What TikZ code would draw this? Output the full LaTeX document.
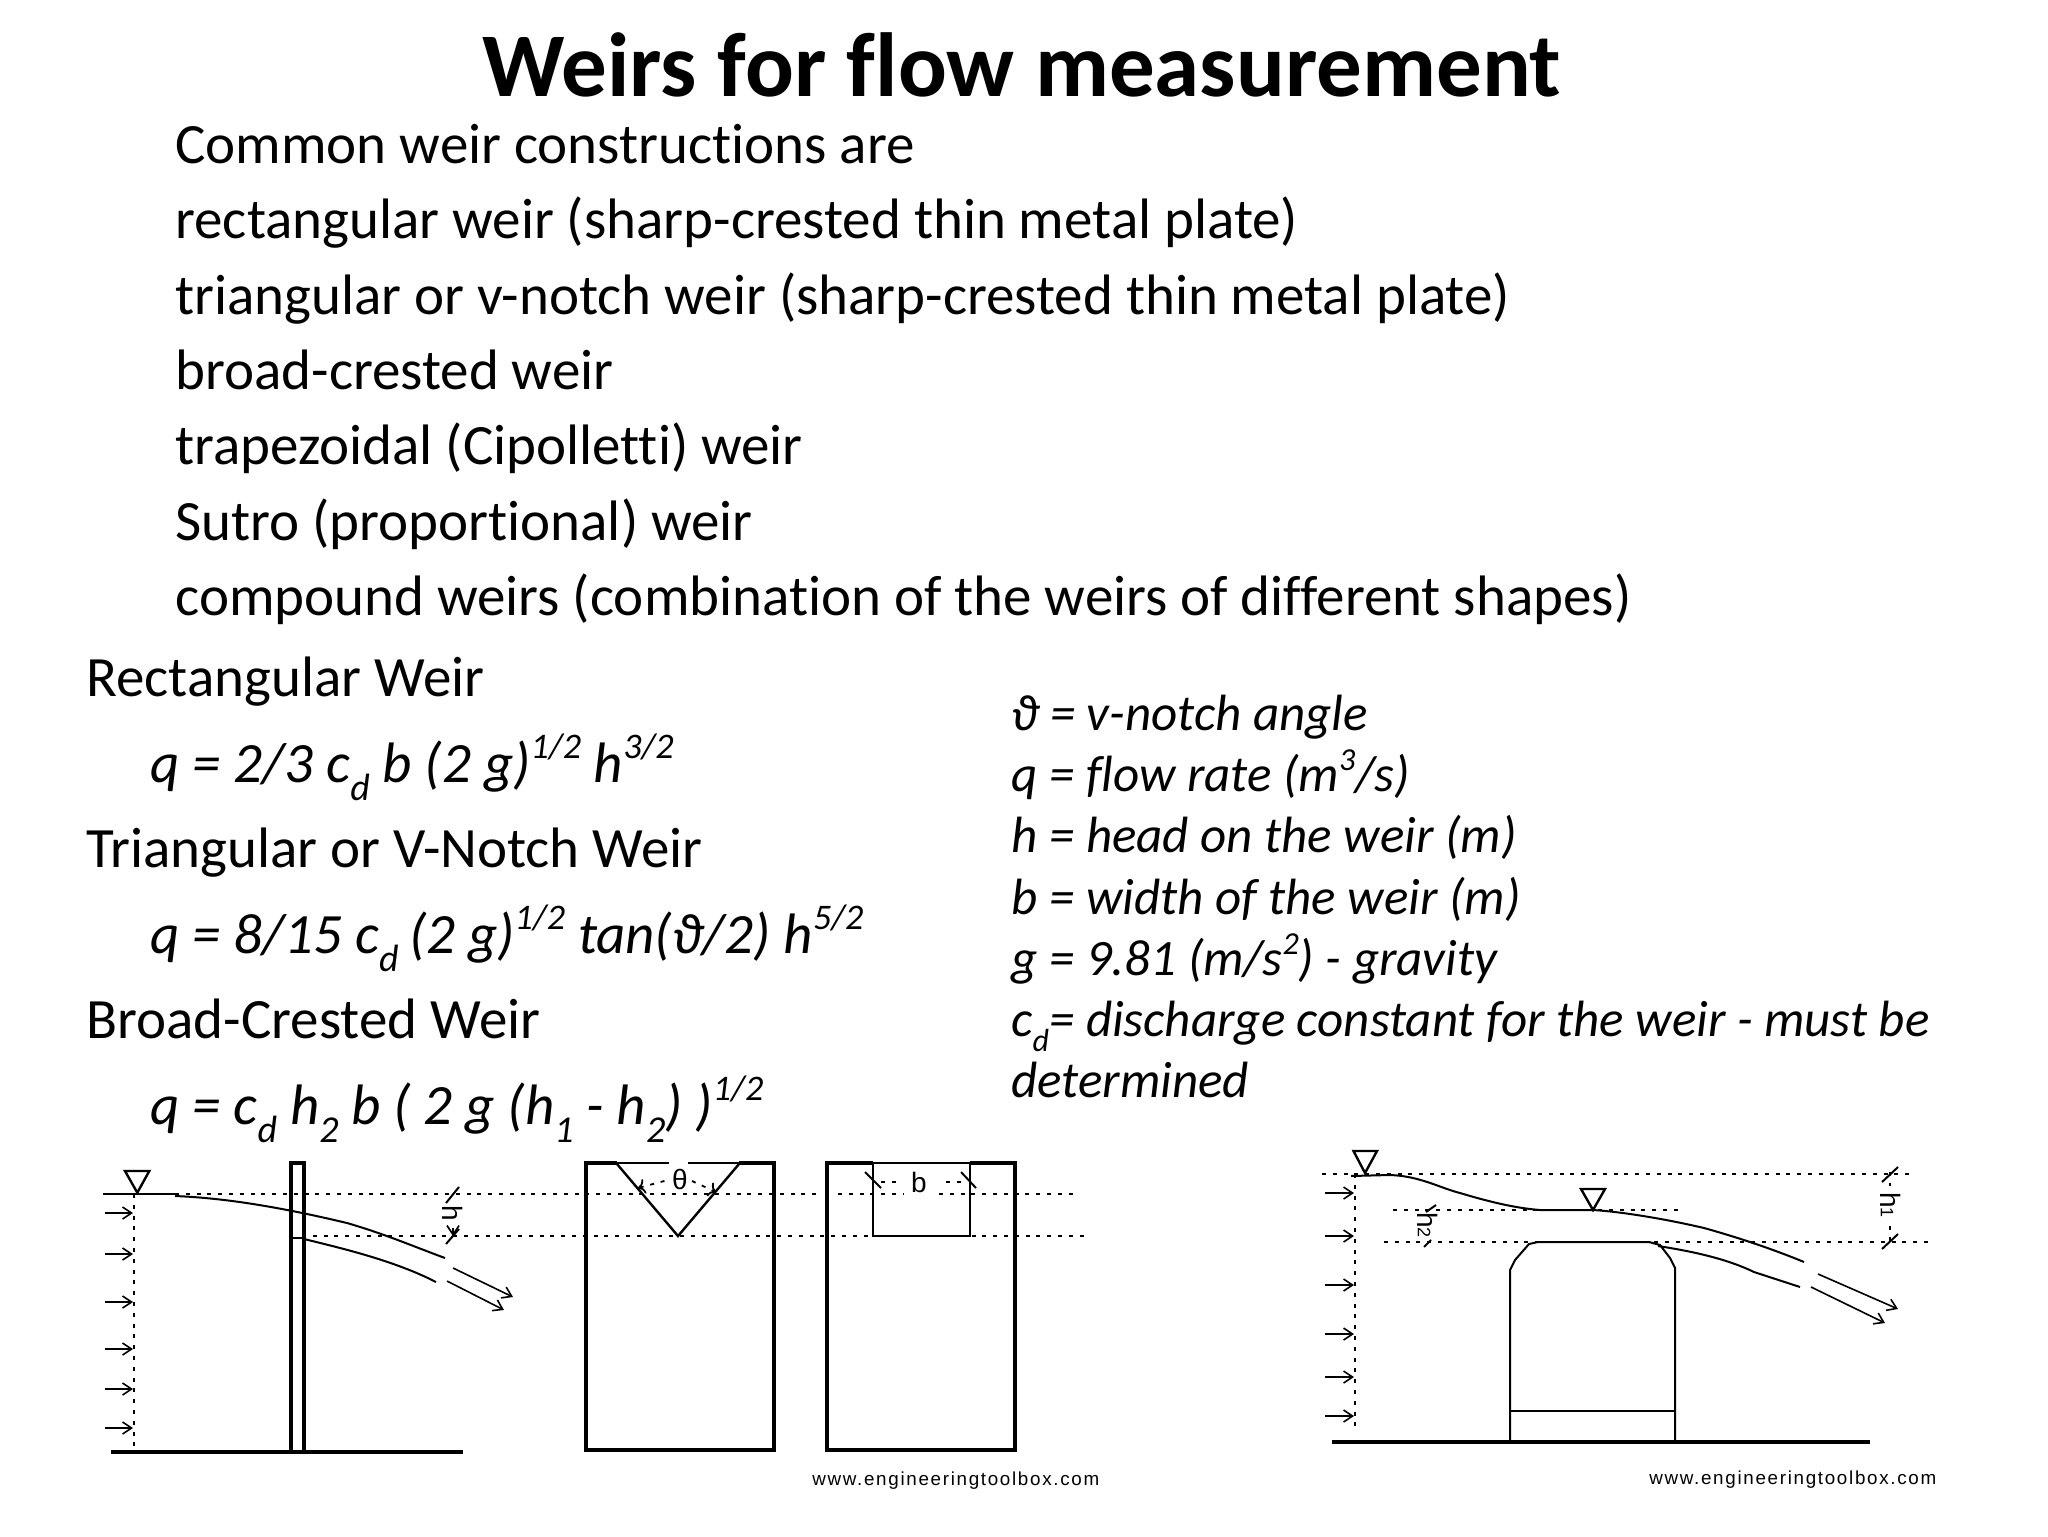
\documentclass[tikz,border=0pt]{standalone}
\usepackage{fontspec}
\setmainfont[Ligatures=NoCommon]{Carlito}
\newfontfamily\markfont[LetterSpace=9]{Liberation Sans}
\newfontfamily\dimfont{Liberation Sans}
\usetikzlibrary{arrows.meta}
\newcommand{\hisup}[1]{\raisebox{0.42em}{\fontsize{18}{18}\selectfont #1}}
\newcommand{\hisub}[1]{\raisebox{-0.32em}{\fontsize{19}{19}\selectfont #1}}
\newcommand{\losup}[1]{\raisebox{0.4em}{\fontsize{16}{16}\selectfont #1}}
\newcommand{\losub}[1]{\raisebox{-0.3em}{\fontsize{16}{16}\selectfont #1}}
\tikzset{
    title/.style={anchor=base, font=\fontsize{45.5}{45.5}\selectfont\bfseries, inner sep=0},
    body/.style={anchor=base west, font=\fontsize{28.5}{28.5}\selectfont, inner sep=0},
    formula/.style={anchor=base west, font=\fontsize{28.5}{28.5}\selectfont\itshape, inner sep=0},
    legend/.style={anchor=base west, font=\fontsize{25.5}{25.5}\selectfont\itshape, inner sep=0},
    plate/.style={line width=2pt},
    ground/.style={line width=2.2pt},
    thin line/.style={line width=1pt},
    level/.style={line width=0.9pt, dash pattern=on 2pt off 3.4pt},
    flow/.style={line width=0.8pt, -{Straight Barb[length=4.5pt, width=6pt]}},
    watermark/.style={anchor=base west, font=\fontsize{9.4}{9.4}\selectfont\markfont, inner sep=0},
    dimlabel/.style={font=\fontsize{14}{14}\selectfont\dimfont, inner sep=0}
}
\begin{document}
\begin{tikzpicture}[x=0.5pt, y=-0.5pt]
    \useasboundingbox (0, 0) rectangle (2048, 1536);

    \node [title] (heading) at (1022, 97) {Weirs for flow measurement};

    \node [body] (line1) at (175, 163) {Common weir constructions are};
    \node [body] (line2) at (175, 238) {rectangular weir (sharp-crested thin metal plate)};
    \node [body] (line3) at (175, 314) {triangular or v-notch weir (sharp-crested thin metal plate)};
    \node [body] (line4) at (175, 389) {broad-crested weir};
    \node [body] (line5) at (175, 464) {trapezoidal (Cipolletti) weir};
    \node [body] (line6) at (175, 540) {Sutro (proportional) weir};
    \node [body] (line7) at (175, 615) {compound weirs (combination of the weirs of different shapes)};

    \node [body] (rectname) at (86, 696) {Rectangular Weir};
    \node [formula] (rectformula) at (150, 782) {q = 2/3 c\hisub{d} b (2 g)\hisup{1/2} h\hisup{3/2}};
    \node [body] (trianame) at (86, 867) {Triangular or V-Notch Weir};
    \node [formula] (triaformula) at (150, 953) {q = 8/15 c\hisub{d}\hspace{0.18em}(2 g)\hisup{1/2} tan(ϑ/2) h\hisup{5/2}};
    \node [body] (broadname) at (86, 1038) {Broad-Crested Weir};
    \node [formula] (broadformula) at (150, 1124) {q = c\hisub{d} h\hisub{2} b ( 2 g (h\hisub{1} - h\hisub{2}) )\hisup{1/2}};

    \node [legend] (legend1) at (1011, 730) {ϑ = v-notch angle};
    \node [legend] (legend2) at (1011, 791) {q = flow rate (m\losup{3}/s)};
    \node [legend] (legend3) at (1011, 852) {h = head on the weir (m)};
    \node [legend] (legend4) at (1011, 914) {b = width of the weir (m)};
    \node [legend] (legend5) at (1011, 975) {g = 9.81 (m/s\losup{2}) - gravity};
    \node [legend] (legend6) at (1011, 1036) {c\losub{d}= discharge constant for the weir - must be};
    \node [legend] (legend7) at (1011, 1097) {determined};

    \draw [thin line, line width=1.2pt] (125, 1171) -- (149.3, 1171) -- (137.3, 1192.7) -- cycle;
    \draw [thin line] (103, 1194) -- (175, 1194);
    \draw [level] (175, 1194) -- (817, 1194);
    \draw [level] (838, 1194) -- (903, 1194);
    \draw [level] (939, 1194) -- (1078, 1194);
    \draw [level] (302, 1236) -- (1088, 1236);
    \draw [level] (134, 1194) -- (134, 1447);
    \foreach \y in {1213, 1254, 1302, 1349, 1389, 1428} {
        \draw [flow] (105, \y) -- (133, \y);
    }
    \draw [ground] (111, 1452) -- (463, 1452);
    \draw [plate] (291, 1163) rectangle (304, 1452);
    \draw [thin line] (291, 1238) -- (304, 1238);
    \draw [thin line] (175, 1196) .. controls (225, 1198) and (280, 1207) .. (347, 1223) .. controls (385, 1234) and (415, 1247) .. (445, 1258);
    \draw [thin line] (304, 1239) .. controls (345, 1249) and (395, 1261) .. (436, 1282);
    \draw [flow] (453, 1268) -- (513, 1297);
    \draw [flow] (447, 1281) -- (504, 1310);
    \draw [thin line] (446, 1203) -- (459, 1187);
    \draw [thin line] (446, 1244) -- (459, 1229);
    \draw [flow] (453, 1228) -- (453, 1236);
    \node [dimlabel, rotate=-90] (hleft) at (453, 1213) {h};

    \draw [plate] (617, 1163) -- (586, 1163) -- (586, 1450) -- (774, 1450) -- (774, 1163) -- (739, 1163);
    \draw [thin line, line width=1.2pt] (617, 1164) -- (678, 1236) -- (739, 1164);
    \draw [thin line] (617, 1163) -- (669, 1163);
    \draw [thin line] (688, 1163) -- (739, 1163);
    \node [dimlabel] (theta) at (680, 1179) {θ};
    \draw [level, <-] (638, 1188) -- (668, 1180);
    \draw [level, ->] (692, 1181) -- (716, 1192);

    \draw [plate] (873, 1163) -- (827, 1163) -- (827, 1450) -- (1015, 1450) -- (1015, 1163) -- (970, 1163);
    \draw [thin line] (873, 1163) rectangle (970, 1236);
    \node [dimlabel] (bwidth) at (919, 1182) {b};
    \draw [thin line] (865, 1172) -- (881, 1188);
    \draw [thin line] (961, 1172) -- (976, 1188);
    \draw [level] (881, 1182) -- (901, 1182);
    \draw [level] (946, 1182) -- (962, 1182);
    \node [watermark] (markleft) at (812, 1485) {www.engineeringtoolbox.com};

    \draw [thin line, line width=1.2pt] (1353.5, 1151) -- (1377, 1151) -- (1365, 1173) -- cycle;
    \draw [thin line, line width=1.2pt] (1581, 1189) -- (1605, 1189) -- (1593, 1210) -- cycle;
    \draw [level] (1322, 1174) -- (1915, 1174);
    \draw [level] (1393, 1210) -- (1679, 1210);
    \draw [level] (1384, 1242) -- (1933, 1242);
    \draw [level] (1355, 1174) -- (1355, 1433);
    \foreach \y in {1193, 1236, 1285, 1334, 1377, 1416} {
        \draw [flow] (1325, \y) -- (1354, \y);
    }
    \draw [thin line] (1351, 1176) -- (1390, 1175) .. controls (1420, 1176) and (1440, 1188) .. (1460, 1193) .. controls (1490, 1202) and (1515, 1208) .. (1540, 1210) -- (1593, 1210) .. controls (1625, 1212) and (1670, 1220) .. (1704, 1228) .. controls (1740, 1238) and (1775, 1250) .. (1804, 1262);
    \draw [thin line] (1658, 1246) .. controls (1690, 1251) and (1725, 1258) .. (1754, 1272) -- (1800, 1287);
    \draw [flow] (1818, 1274) -- (1898, 1309);
    \draw [flow] (1811, 1287) -- (1885, 1323);
    \draw [ground] (1332, 1442) -- (1870, 1442);
    \draw [thin line] (1510, 1440) -- (1510, 1270) -- (1515, 1260) -- (1529, 1244) -- (1538, 1242) -- (1649, 1242) -- (1660, 1245) -- (1670, 1258) -- (1675, 1268) -- (1675, 1440);
    \draw [thin line] (1510, 1411) -- (1675, 1411);
    \draw [thin line] (1882, 1182) -- (1898, 1167);
    \draw [thin line] (1882, 1249) -- (1898, 1234);
    \draw [level] (1890, 1172) -- (1890, 1186);
    \draw [level] (1890, 1226) -- (1890, 1241);
    \node [dimlabel, rotate=-90] (honeright) at (1891, 1205) {h\fontsize{9}{9}\selectfont 1};
    \draw [thin line] (1426, 1212) -- (1436, 1205);
    \draw [thin line] (1424, 1247) -- (1431, 1240);
    \node [dimlabel, rotate=-90] (htworight) at (1428, 1225) {h\fontsize{9}{9}\selectfont 2};
    \node [watermark] (markright) at (1649, 1484) {www.engineeringtoolbox.com};
\end{tikzpicture}
\end{document}
